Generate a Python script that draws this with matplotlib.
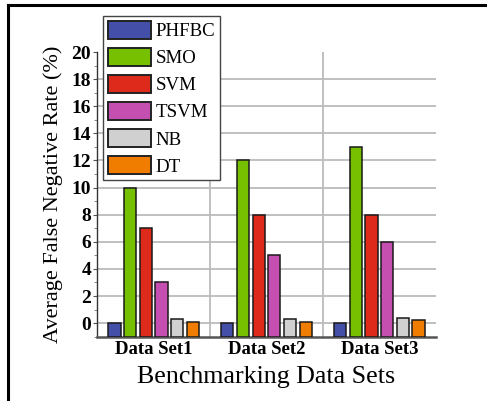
import matplotlib.pyplot as plt
import numpy as np
from matplotlib.lines import Line2D
from matplotlib.ticker import MultipleLocator

# values
datasets = ['Data Set1', 'Data Set2', 'Data Set3']
methods = ['PHFBC', 'SMO', 'SVM', 'TSVM', 'NB', 'DT']
fnr = {
    'PHFBC': [0, 0, 0],
    'SMO': [10, 12, 13],
    'SVM': [7, 8, 8],
    'TSVM': [3, 5, 6],
    'NB': [0.3, 0.3, 0.4],
    'DT': [0.1, 0.1, 0.2],
}
colors = ['#4450a8', '#76c000', '#dd2a1b', '#c44fb0', '#d0d0d0', '#f07d00']
yticks = list(range(0, 21, 2))

plt.rcParams['font.family'] = ['Liberation Serif', 'DejaVu Serif']

fig = plt.figure(figsize=(4.87, 4.01), dpi=100)
ax = fig.add_axes([0.1998, 0.1603, 0.6949, 0.7100])

base = -1
x = np.arange(1, len(datasets) + 1)
pitch = 0.139
width = 0.109
for i, m in enumerate(methods):
    vals = np.array(fnr[m])
    ax.bar(x + (i - 2.5) * pitch, vals - base, bottom=base, width=width,
           color=colors[i], edgecolor='#1a1a1a', linewidth=1.1, label=m, zorder=3)

ax.set_xlim(0.5, 3.5)
ax.set_ylim(-1, 20)
ax.set_yticks(yticks)
ax.yaxis.set_minor_locator(MultipleLocator(1))
ax.set_xticks(x)
ax.set_xticklabels(datasets, fontsize=13.5, fontweight='bold')
ax.set_yticklabels([str(v) for v in yticks], fontsize=14, fontweight='bold')
ax.tick_params(axis='x', length=0, pad=3)
ax.tick_params(axis='y', which='major', length=3, width=0.8, color='#555555', pad=1.5)
ax.tick_params(axis='y', which='minor', length=2, width=0.6, color='#777777')

# grid: horizontal at ticks (not at the top), vertical at group borders
for v in yticks[:-1]:
    ax.axhline(v, color='#bbbbbb', linewidth=1.3, zorder=1)
for b in [1.5, 2.5]:
    ax.axvline(b, color='#bbbbbb', linewidth=1.3, zorder=1)

for s in ['top', 'right']:
    ax.spines[s].set_visible(False)
ax.spines['left'].set_color('#333333')
ax.spines['left'].set_linewidth(1.0)
ax.spines['bottom'].set_color('#555555')
ax.spines['bottom'].set_linewidth(1.8)

ax.set_xlabel('Benchmarking Data Sets', fontsize=18.7, labelpad=6)
ax.set_ylabel('Average False Negative Rate (%)', fontsize=16, labelpad=6)

leg = ax.legend(loc='upper left', bbox_to_anchor=(0.017, 1.126), fontsize=13.6,
                handlelength=2.27, handleheight=1.1, handletextpad=0.25,
                labelspacing=0.4, borderpad=0.25, borderaxespad=0,
                fancybox=False, framealpha=1, edgecolor='#444444')
leg.get_frame().set_linewidth(1.0)
for p in leg.get_patches():
    p.set_edgecolor('#222222')
    p.set_linewidth(1.4)

# outer frame lines (left and top) of the original figure panel
fig.add_artist(Line2D([0.016, 0.016], [0.0, 0.988], transform=fig.transFigure,
                      color='black', linewidth=2.2))
fig.add_artist(Line2D([0.016, 1.0], [0.988, 0.988], transform=fig.transFigure,
                      color='black', linewidth=2.2))

fig.savefig('out.png', dpi=100)
